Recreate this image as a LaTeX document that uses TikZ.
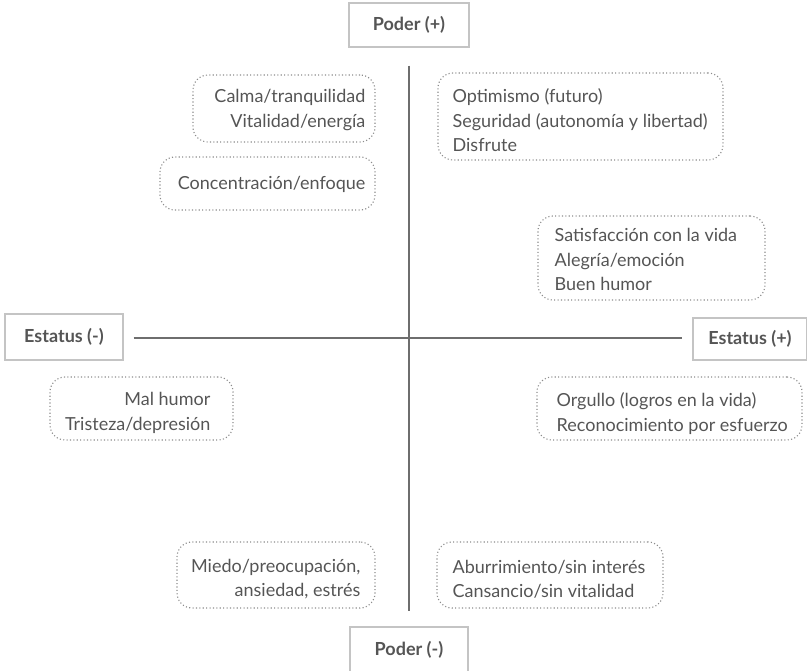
\documentclass[tikz,border=0pt]{standalone}
\usepackage{fontspec}
\setmainfont{Lato}
\definecolor{txt}{HTML}{555555}
\definecolor{frm}{HTML}{C4C4C4}
\definecolor{dots}{HTML}{8C8C8C}
\definecolor{axis}{HTML}{6E6E6E}
\begin{document}
\begin{tikzpicture}[x=1pt,y=-1pt,
  lab/.style={draw=frm,line width=1.1pt,fill=white,text=txt,font=\fontsize{18}{20}\selectfont\bfseries,inner sep=0pt},
  cloud/.style={draw=dots,line width=1.1pt,dash pattern=on 1.1pt off 2.3pt,rounded corners=15pt,inner sep=0pt},
  words/.style={text=txt,font=\fontsize{18}{24.5}\selectfont,inner sep=0pt},
  ax/.style={draw=axis,line width=1.2pt}]
\useasboundingbox (0,0) rectangle (807,671);
% axis labels
\node[lab,minimum width=120pt,minimum height=44pt] (pp) at (409,25) {Poder (+)};
\node[lab,minimum width=118pt,minimum height=46pt] (pm) at (409,650) {Poder (-)};
\node[lab,minimum width=118pt,minimum height=46pt] (em) at (64,337) {Estatus (-)};
\node[lab,minimum width=114pt,minimum height=42pt] (ep) at (750,339) {Estatus (+)};
% axes
\draw[ax,shorten <=18pt,shorten >=15pt] (pp.south) -- (pm.north);
\path (em.east|-0,338) ++(10,0) coordinate (h1);
\path (ep.west|-0,338) ++(-10,0) coordinate (h2);
\draw[ax] (h1) -- (h2);
% clouds
\node[cloud,minimum width=182pt,minimum height=67pt] (c1) at (284,108.5) {};
\node[words,anchor=east,align=right] (t1) at ([xshift=-10pt,yshift=-1.5pt]c1.east) {Calma/tranquilidad\\Vitalidad/energía};
\node[cloud,minimum width=215pt,minimum height=53pt] (c2) at (267.5,183.5) {};
\node[words,anchor=east,align=right] (t2) at ([xshift=-10pt,yshift=-1pt]c2.east) {Concentración/enfoque};
\node[cloud,minimum width=285pt,minimum height=87pt] (c3) at (580.5,116.5) {};
\node[words,anchor=west,align=left] (t3) at ([xshift=15pt,yshift=-4pt]c3.west) {Optimismo (futuro)\\Seguridad (autonomía y libertad)\\Disfrute};
\node[cloud,minimum width=227pt,minimum height=84pt] (c4) at (651.5,258) {};
\node[words,anchor=west,align=left] (t4) at ([xshift=17pt,yshift=-1.5pt]c4.west) {Satisfacción con la vida\\Alegría/emoción\\Buen humor};
\node[cloud,minimum width=183pt,minimum height=63pt] (c5) at (141.5,408.5) {};
\node[words,anchor=east,align=right] (t5) at ([xshift=-23pt,yshift=-4.5pt]c5.east) {Mal humor\\Tristeza/depresión};
\node[cloud,minimum width=265pt,minimum height=63pt] (c6) at (669.5,408.5) {};
\node[words,anchor=west,align=left] (t6) at ([xshift=20pt,yshift=-5pt]c6.west) {Orgullo (logros en la vida)\\Reconocimiento por esfuerzo};
\node[cloud,minimum width=198pt,minimum height=66pt] (c7) at (276,575) {};
\node[words,anchor=east,align=right] (t7) at ([xshift=-15pt,yshift=-4pt]c7.east) {Miedo/preocupación,\\ansiedad, estrés};
\node[cloud,minimum width=226pt,minimum height=66pt] (c8) at (550,575) {};
\node[words,anchor=west,align=left] (t8) at ([xshift=16pt,yshift=-4.5pt]c8.west) {Aburrimiento/sin interés\\Cansancio/sin vitalidad};
\end{tikzpicture}
\end{document}
